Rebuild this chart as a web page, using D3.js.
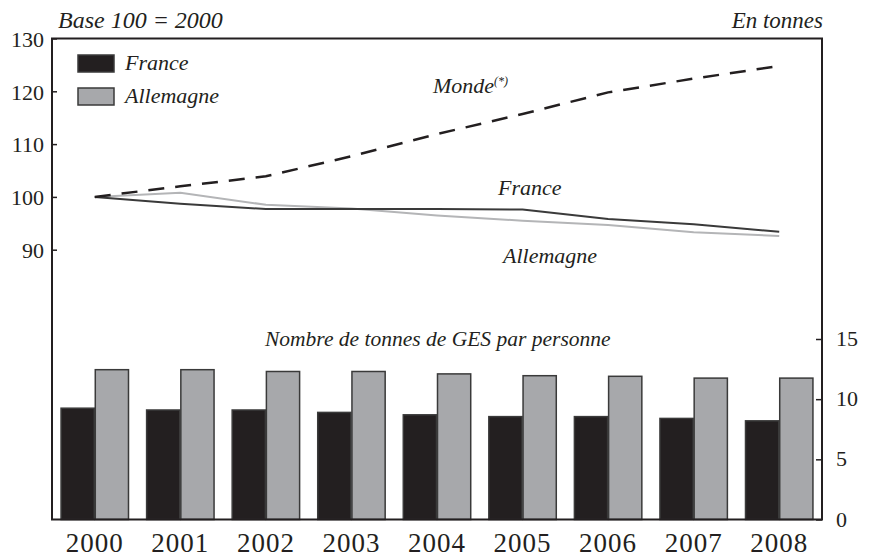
<!DOCTYPE html>
<html>
<head>
<meta charset="utf-8">
<script src="https://cdn.jsdelivr.net/npm/d3@7"></script>
<style>
body { margin:0; background:#fff; overflow:hidden; }
svg text { font-family:"Liberation Serif","DejaVu Serif",serif; fill:#231f20; }
.it { font-style:italic; }
</style>
</head>
<body>
<div id="chart"></div>
<script>
// data
var years = ["2000","2001","2002","2003","2004","2005","2006","2007","2008"];
var mondeIdx     = [100, 102.0, 103.9, 107.7, 111.9, 115.7, 119.8, 122.4, 124.8];
var franceIdx    = [100, 98.7, 97.7, 97.7, 97.7, 97.6, 95.8, 94.8, 93.4];
var allemagneIdx = [100, 100.8, 98.5, 97.8, 96.5, 95.5, 94.7, 93.3, 92.6];
var franceT      = [9.25, 9.1, 9.1, 8.9, 8.7, 8.55, 8.55, 8.4, 8.2];
var allemagneT   = [12.45, 12.45, 12.3, 12.3, 12.1, 11.95, 11.9, 11.75, 11.75];
var leftTicks  = [90, 100, 110, 120, 130];
var rightTicks = [0, 5, 10, 15];
var series = ["France", "Allemagne"];

var W = 870, H = 552;
var plotL = 52, plotR = 822, plotT = 38.5, plotB = 519.5;
var dark = "#231f20", grey = "#a7a8ab";

var svg = d3.select("#chart").append("svg")
    .attr("width", W)
    .attr("height", H)
    .style("display", "block");

var x = d3.scaleBand()
    .domain(years)
    .range([plotL, plotR])
    .paddingInner(0.2)
    .paddingOuter(0.1);

var xSub = d3.scaleBand()
    .domain(series)
    .range([0, x.bandwidth()]);

var yIdx = d3.scaleLinear()
    .domain([90, 130])
    .range([249.7, plotT]);

var yT = d3.scaleLinear()
    .domain([0, 15])
    .range([plotB, 339]);

var color = d3.scaleOrdinal().domain(series).range([dark, grey]);

// bars
var groups = svg.append("g").selectAll("g")
    .data(years)
    .enter().append("g")
    .attr("transform", function(d){ return "translate(" + x(d) + ",0)"; });

groups.selectAll("rect")
    .data(function(d, i){
        return [{k:"France", v:franceT[i]}, {k:"Allemagne", v:allemagneT[i]}];
    })
    .enter().append("rect")
    .attr("x", function(d){ return xSub(d.k) + 0.5; })
    .attr("width", xSub.bandwidth() - 1)
    .attr("y", function(d){ return yT(d.v); })
    .attr("height", function(d){ return plotB - yT(d.v); })
    .attr("fill", function(d){ return color(d.k); })
    .attr("stroke", "#3a3a3a")
    .attr("stroke-width", 1.5);

// frame
svg.append("path")
    .attr("d", "M" + plotL + "," + plotT + "H" + plotR + "V" + plotB + "H" + plotL + "Z")
    .attr("fill", "none")
    .attr("stroke", dark)
    .attr("stroke-width", 2);

// left axis
var gL = svg.append("g")
    .attr("transform", "translate(" + plotL + ",0)")
    .call(d3.axisRight(yIdx).tickValues(leftTicks).tickSize(5).tickFormat(d3.format("d")));
gL.select(".domain").remove();
gL.selectAll("line").attr("stroke", dark).attr("stroke-width", 1.5);
gL.selectAll("text")
    .attr("x", -8)
    .attr("text-anchor", "end")
    .attr("dy", "0.35em")
    .style("font-size", "22px");

// right axis
var gR = svg.append("g")
    .attr("transform", "translate(" + plotR + ",0)")
    .call(d3.axisLeft(yT).tickValues(rightTicks).tickSize(6));
gR.select(".domain").remove();
gR.selectAll("line").attr("stroke", dark).attr("stroke-width", 1.5);
gR.selectAll("text")
    .attr("x", 14)
    .attr("text-anchor", "start")
    .attr("dy", "0.3em")
    .style("font-size", "22px");

// bottom labels
var gB = svg.append("g")
    .attr("transform", "translate(0," + plotB + ")")
    .call(d3.axisBottom(x).tickSize(0).tickPadding(13));
gB.select(".domain").remove();
gB.selectAll("text")
    .attr("dy", "0.71em")
    .style("font-size", "27px")
    .style("letter-spacing", "1px");

// lines
var cx = function(d, i){ return x(years[i]) + x.bandwidth() / 2; };
var line = d3.line()
    .x(cx)
    .y(function(d){ return yIdx(d); });

svg.append("path").datum(allemagneIdx)
    .attr("d", line)
    .attr("fill", "none")
    .attr("stroke", "#b4b5b7")
    .attr("stroke-width", 2);

svg.append("path").datum(franceIdx)
    .attr("d", line)
    .attr("fill", "none")
    .attr("stroke", "#3a3a3a")
    .attr("stroke-width", 2);

svg.append("path").datum(mondeIdx)
    .attr("d", line)
    .attr("fill", "none")
    .attr("stroke", dark)
    .attr("stroke-width", 2.5)
    .attr("stroke-dasharray", "16,11");

// legend
var legend = svg.append("g").selectAll("g")
    .data(series)
    .enter().append("g")
    .attr("transform", function(d, i){ return "translate(78," + (55 + i * 33) + ")"; });
legend.append("rect")
    .attr("width", 36)
    .attr("height", 17)
    .attr("fill", function(d){ return color(d); })
    .attr("stroke", "#3a3a3a")
    .attr("stroke-width", 1.5);
legend.append("text")
    .attr("class", "it")
    .attr("x", 47)
    .attr("y", 15)
    .style("font-size", "22px")
    .text(function(d){ return d; });

// titles and labels
function label(tx, ty, s, anchor, size) {
    return svg.append("text")
        .attr("class", "it")
        .attr("x", tx)
        .attr("y", ty)
        .attr("text-anchor", anchor || "start")
        .style("font-size", (size || 22) + "px")
        .text(s);
}
label(58, 28, "Base 100 = 2000", "start", 24);
label(823, 28, "En tonnes", "end", 23);
var m = label(433, 93, "Monde", "start", 22);
m.append("tspan").attr("dy", -8).style("font-size", "12px").text("(*)");
label(498, 195, "France", "start", 22);
label(503, 263, "Allemagne", "start", 22);
label(265, 346, "Nombre de tonnes de GES par personne", "start", 21.5);
</script>
</body>
</html>
